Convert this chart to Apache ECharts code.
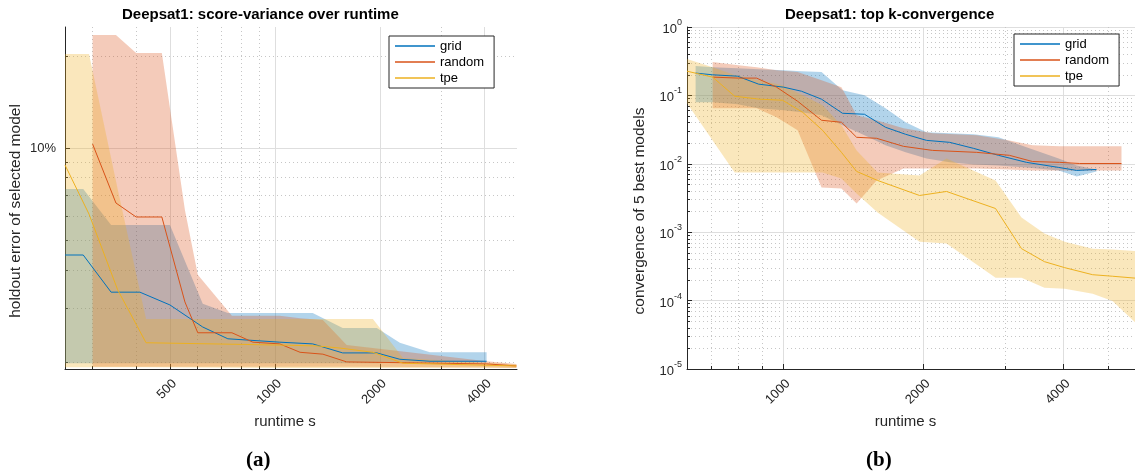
<!DOCTYPE html>
<html>
<head>
<meta charset="utf-8">
<script src="https://cdn.jsdelivr.net/npm/echarts@6.0.0/dist/echarts.min.js"></script>
<style>
  html, body { margin: 0; padding: 0; background: #fff; }
  #chart { width: 1135px; height: 476px; }
</style>
</head>
<body>
<div id="chart"></div>
<script>
// ---------- Panel (a): holdout error of the selected model over runtime ----------
const gridTimeA = [250, 282, 339, 410, 500, 621, 733, 1033, 1284, 1565, 1961, 2283, 2785, 4049];
const gridMeanA = [0.0447, 0.0447, 0.0338, 0.0338, 0.0307, 0.0260, 0.0238, 0.0232, 0.0229, 0.0214, 0.0214, 0.0204, 0.0201, 0.0201];
const gridHighA = [0.0734, 0.0734, 0.0560, 0.0560, 0.0560, 0.0310, 0.0289, 0.0289, 0.0289, 0.0258, 0.0258, 0.0231, 0.0215, 0.0215];
const gridLowA  = [0.0198, 0.0198, 0.0198, 0.0198, 0.0198, 0.0198, 0.0198, 0.0198, 0.0198, 0.0198, 0.0198, 0.0199, 0.0199, 0.0199];

const randomTimeA = [300, 350, 400, 474, 552, 601, 753, 865, 1033, 1181, 1373, 1607, 4050, 4930];
const randomMeanA = [0.1030, 0.0661, 0.0595, 0.0595, 0.0314, 0.0249, 0.0249, 0.0232, 0.0229, 0.0215, 0.0212, 0.0200, 0.0197, 0.0194];
const randomHighA = [0.2340, 0.2340, 0.2044, 0.2044, 0.0627, 0.0385, 0.0283, 0.0283, 0.0283, 0.0278, 0.0274, 0.0227, 0.0201, 0.0197];
const randomLowA  = [0.0193, 0.0193, 0.0193, 0.0193, 0.0193, 0.0193, 0.0193, 0.0193, 0.0193, 0.0193, 0.0193, 0.0193, 0.0192, 0.0191];

const tpeTimeA = [250, 293, 354, 427, 1033, 1320, 1536, 1911, 2331, 4930];
const tpeMeanA = [0.0880, 0.0608, 0.0344, 0.0231, 0.0227, 0.02255, 0.0222, 0.0215, 0.0198, 0.0194];
const tpeHighA = [0.2028, 0.2028, 0.0734, 0.0276, 0.0276, 0.0276, 0.0276, 0.0276, 0.0206, 0.0196];
const tpeLowA  = [0.0192, 0.0192, 0.0192, 0.0192, 0.0191, 0.0191, 0.0191, 0.0191, 0.0191, 0.0191];

const xTicksA = [500, 1000, 2000, 4000];
const xMinorA = [300, 400, 600, 700, 800, 900, 3000];
const yTicksA = [0.1];
const yMinorA = [0.02, 0.03, 0.04, 0.05, 0.06, 0.07, 0.08, 0.09, 0.2];

// ---------- Panel (b): convergence of the 5 best models over runtime ----------
const gridTimeB = [647, 704, 796, 884, 1000, 1093, 1207, 1339, 1493, 1657, 1830, 2030, 2276, 2563, 2899, 3330, 3906, 4270, 4710];
const gridMeanB = [0.212, 0.200, 0.191, 0.146, 0.132, 0.115, 0.088, 0.0548, 0.0530, 0.0342, 0.0270, 0.0220, 0.0206, 0.0168, 0.0133, 0.0105, 0.00885, 0.0080, 0.00828];
const gridHighB = [0.268, 0.259, 0.250, 0.242, 0.234, 0.226, 0.219, 0.119, 0.1007, 0.0649, 0.0405, 0.0289, 0.0279, 0.0270, 0.0244, 0.0174, 0.0120, 0.00948, 0.00828];
const gridLowB  = [0.0795, 0.0795, 0.0743, 0.0649, 0.0607, 0.0567, 0.0512, 0.0366, 0.0261, 0.0186, 0.0147, 0.0120, 0.0105, 0.0098, 0.00948, 0.00885, 0.0080, 0.00653, 0.00774];

const randomTimeB = [704, 800, 875, 966, 1072, 1207, 1332, 1436, 1585, 1811, 2091, 2602, 3061, 3430, 3922, 4333, 5330];
const randomMeanB = [0.185, 0.179, 0.179, 0.132, 0.0822, 0.0433, 0.0405, 0.0244, 0.0236, 0.0180, 0.0157, 0.0147, 0.0133, 0.0108, 0.0105, 0.0101, 0.0101];
const randomHighB = [0.307, 0.277, 0.259, 0.234, 0.219, 0.167, 0.132, 0.0512, 0.0433, 0.0330, 0.0279, 0.0261, 0.0220, 0.0186, 0.0180, 0.0180, 0.0180];
const randomLowB  = [0.0649, 0.0649, 0.0649, 0.0479, 0.0309, 0.00451, 0.00436, 0.00262, 0.00571, 0.00857, 0.00857, 0.00857, 0.00828, 0.0080, 0.0080, 0.0080, 0.0080];

const tpeTimeB = [620, 704, 785, 888, 995, 1099, 1213, 1332, 1436, 1593, 1961, 2241, 2857, 3249, 3639, 4024, 4621, 5100, 5900];
const tpeMeanB = [0.226, 0.185, 0.0973, 0.0880, 0.0850, 0.0567, 0.0309, 0.0147, 0.00774, 0.00571, 0.00344, 0.00394, 0.00222, 0.000575, 0.000371, 0.000303, 0.000239, 0.000227, 0.000209];
const tpeHighB = [0.340, 0.259, 0.198, 0.167, 0.141, 0.1007, 0.0718, 0.0366, 0.0157, 0.00748, 0.00676, 0.0120, 0.00571, 0.00164, 0.000954, 0.000728, 0.000575, 0.00056, 0.00052];
const tpeLowB  = [0.0769, 0.0220, 0.00748, 0.00748, 0.00748, 0.00748, 0.00748, 0.00611, 0.00368, 0.00194, 0.000728, 0.000681, 0.000216, 0.000216, 0.000154, 0.000149, 0.000126, 0.000099, 0.0000386];

const xTicksB = [1000, 2000, 4000];
const xMinorB = [700, 800, 900, 3000, 5000];
const yTicksB = [1, 0.1, 0.01, 0.001, 0.0001, 0.00001];
const yMinorB = [];
for (let e = -5; e < 0; e++) {
  for (let k = 2; k <= 9; k++) yMinorB.push(k * Math.pow(10, e));
}

const methodNames = ['grid', 'random', 'tpe'];
const methodColors = { grid: '#0072BD', random: '#D95319', tpe: '#EDB120' };
const bandFill = { grid: 'rgba(0,114,189,0.3)', random: 'rgba(217,83,25,0.3)', tpe: 'rgba(237,177,32,0.3)' };

// ---------- shared styling ----------
const FONT = '"Liberation Sans", Arial, Helvetica, sans-serif';
const AX = '#262626';
const MAJOR_GRID = '#dedede';
const MINOR_GRID = '#c6c6c6';

function mainXAxis(gridIndex, min, max, ticks, nameShift) {
  return {
    type: 'log', gridIndex, min, max, position: 'bottom',
    axisLine: { show: true, lineStyle: { color: AX, width: 1 } },
    axisTick: { show: true, inside: true, length: 5, customValues: ticks, lineStyle: { color: AX } },
    axisLabel: {
      show: true, customValues: ticks, rotate: 45, margin: 8,
      verticalAlign: 'top',
      fontSize: 13, color: AX, fontFamily: FONT,
      formatter: v => String(Math.round(v))
    },
    splitLine: { show: true, lineStyle: { color: MAJOR_GRID, width: 1 } },
    name: 'runtime s', nameLocation: 'middle', nameGap: 45,
    nameTextStyle: { fontSize: 15, color: AX, fontFamily: FONT, padding: [0, nameShift, 0, 0] }
  };
}
function minorXAxis(gridIndex, min, max, ticks) {
  return {
    type: 'log', gridIndex, min, max, position: 'bottom',
    axisLine: { show: false },
    axisTick: { show: true, inside: true, length: 3, customValues: ticks, lineStyle: { color: AX } },
    axisLabel: { show: false, customValues: ticks },
    splitLine: { show: true, lineStyle: { color: MINOR_GRID, width: 1, type: [1, 3] } }
  };
}
function mainYAxis(gridIndex, min, max, ticks, labelCfg, name, nameGap) {
  return {
    type: 'log', gridIndex, min, max, position: 'left',
    axisLine: { show: true, lineStyle: { color: AX, width: 1 } },
    axisTick: { show: true, inside: true, length: 5, customValues: ticks, lineStyle: { color: AX } },
    axisLabel: Object.assign({ show: true, customValues: ticks, fontSize: 13, color: AX, fontFamily: FONT }, labelCfg),
    splitLine: { show: true, lineStyle: { color: MAJOR_GRID, width: 1 } },
    name, nameLocation: 'middle', nameRotate: 90, nameGap,
    nameTextStyle: { fontSize: 15.5, color: AX, fontFamily: FONT, padding: [0, 26, 0, 0] }
  };
}
function minorYAxis(gridIndex, min, max, ticks) {
  return {
    type: 'log', gridIndex, min, max, position: 'left',
    axisLine: { show: false },
    axisTick: { show: true, inside: true, length: 3, customValues: ticks, lineStyle: { color: AX } },
    axisLabel: { show: false, customValues: ticks },
    splitLine: { show: true, lineStyle: { color: MINOR_GRID, width: 1, type: [1, 3] } }
  };
}

// translucent spread band between low and high, mapped through the axes
function bandSeries(method, axisIdx, times, low, high) {
  return {
    type: 'custom', name: method + ' spread', xAxisIndex: axisIdx, yAxisIndex: axisIdx,
    silent: true, animation: false,
    data: [[times[0], high[0]]],
    renderItem: (params, api) => {
      const pts = [];
      for (let i = 0; i < times.length; i++) pts.push(api.coord([times[i], high[i]]));
      for (let i = times.length - 1; i >= 0; i--) pts.push(api.coord([times[i], low[i]]));
      return { type: 'polygon', shape: { points: pts }, style: { fill: bandFill[method], stroke: null } };
    }
  };
}
function meanSeries(method, axisIdx, times, mean) {
  return {
    type: 'line', name: method, xAxisIndex: axisIdx, yAxisIndex: axisIdx,
    data: times.map((t, i) => [t, mean[i]]),
    symbol: 'none', silent: true, animation: false,
    color: methodColors[method],
    lineStyle: { color: methodColors[method], width: 1 }
  };
}

const panelA = {
  grid: { times: gridTimeA, mean: gridMeanA, low: gridLowA, high: gridHighA },
  random: { times: randomTimeA, mean: randomMeanA, low: randomLowA, high: randomHighA },
  tpe: { times: tpeTimeA, mean: tpeMeanA, low: tpeLowA, high: tpeHighA }
};
const panelB = {
  grid: { times: gridTimeB, mean: gridMeanB, low: gridLowB, high: gridHighB },
  random: { times: randomTimeB, mean: randomMeanB, low: randomLowB, high: randomHighB },
  tpe: { times: tpeTimeB, mean: tpeMeanB, low: tpeLowB, high: tpeHighB }
};

const series = [];
[[panelA, 0], [panelB, 2]].forEach(([panel, idx]) => {
  methodNames.forEach(m => {
    const d = panel[m];
    series.push(bandSeries(m, idx, d.times, d.low, d.high));
    series.push(meanSeries(m, idx, d.times, d.mean));
  });
});

function legendAt(left, top) {
  return {
    data: methodNames, orient: 'vertical', left, top,
    icon: 'rect',
    backgroundColor: '#fff', borderColor: AX, borderWidth: 1,
    padding: [3, 10, 3, 6], itemGap: 2, itemWidth: 40, itemHeight: 1.5,
    selectedMode: false,
    textStyle: { fontSize: 13, color: '#000', fontFamily: FONT, lineHeight: 14 }
  };
}

const titleStyle = { fontSize: 15, fontWeight: 'bold', color: '#000', fontFamily: FONT };
const captionStyle = { fontSize: 21, fontWeight: 'bold', color: '#000', fontFamily: '"Liberation Serif", "Times New Roman", serif' };

const option = {
  animation: false,
  backgroundColor: '#fff',
  title: [
    { text: 'Deepsat1: score-variance over runtime', left: 122, top: 7, padding: 0, textStyle: titleStyle },
    { text: 'Deepsat1: top k-convergence', left: 785, top: 7, padding: 0, textStyle: titleStyle },
    { text: '(a)', left: 246, top: 450, padding: 0, textStyle: captionStyle },
    { text: '(b)', left: 866, top: 450, padding: 0, textStyle: captionStyle }
  ],
  legend: [legendAt(389, 36), legendAt(1014, 34)],
  grid: [
    { left: 65, top: 27, width: 452, height: 342, containLabel: false, outerBoundsMode: 'none' },
    { left: 687, top: 27, width: 455, height: 342, containLabel: false, outerBoundsMode: 'none' }
  ],
  xAxis: [
    mainXAxis(0, 250, 4950, xTicksA, 12),
    minorXAxis(0, 250, 4950, xMinorA),
    mainXAxis(1, 620, 5900, xTicksB, 18),
    minorXAxis(1, 620, 5900, xMinorB)
  ],
  yAxis: [
    mainYAxis(0, 0.01896, 0.2485, yTicksA, { margin: 9, formatter: () => '10%' },
      'holdout error of selected model', 41),
    minorYAxis(0, 0.01896, 0.2485, yMinorA),
    mainYAxis(1, 0.00001, 1, yTicksB, {
      margin: 5,
      formatter: v => '{b|10}{s|' + Math.round(Math.log10(v)) + '}',
      rich: {
        b: { fontSize: 13, color: AX, fontFamily: FONT, verticalAlign: 'bottom', lineHeight: 18 },
        s: { fontSize: 9, color: AX, fontFamily: FONT, verticalAlign: 'top', lineHeight: 10 }
      }
    }, 'convergence of 5 best models', 39),
    minorYAxis(1, 0.00001, 1, yMinorB)
  ],
  series
};

const chart = echarts.init(document.getElementById('chart'), null, { renderer: 'canvas' });
chart.setOption(option);
</script>
</body>
</html>
